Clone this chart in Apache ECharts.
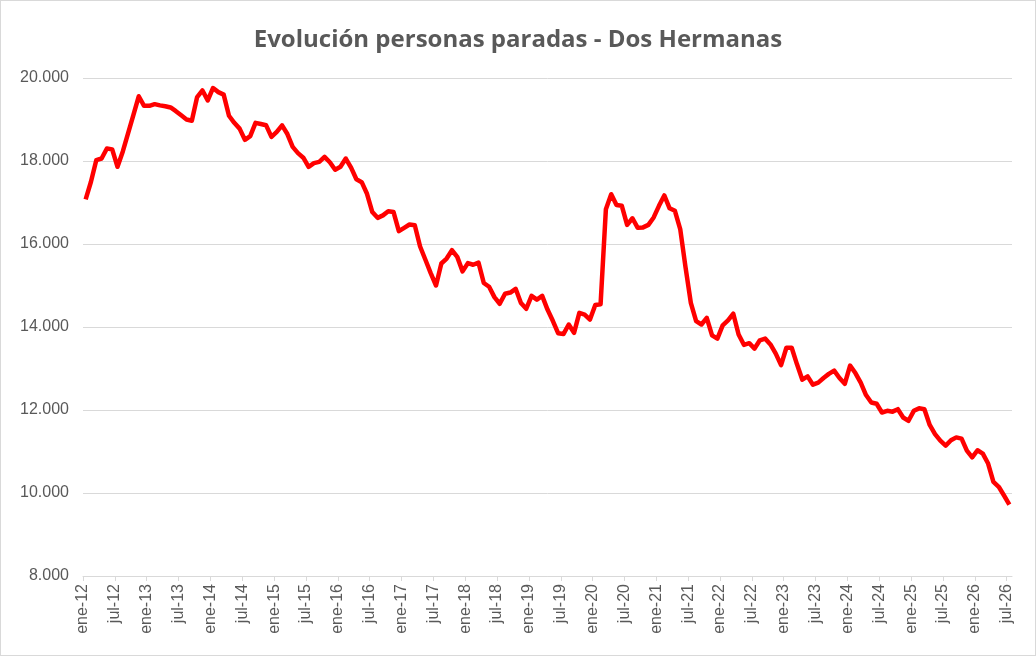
<!DOCTYPE html>
<html>
<head>
<meta charset="utf-8">
<script src="https://cdn.jsdelivr.net/npm/echarts@6/dist/echarts.min.js"></script>
<style>
  html, body { margin: 0; padding: 0; background: #fff; }
  #chart { width: 1036px; height: 656px; box-sizing: border-box; border: 1px solid #d9d9d9; }
</style>
</head>
<body>
<div id="chart"></div>
<script>
// meses de ene-12 a jul-26
var mesesNombre = ['ene', 'feb', 'mar', 'abr', 'may', 'jun', 'jul', 'ago', 'sep', 'oct', 'nov', 'dic'];
var meses = [];
for (var a = 12; a <= 26; a++) {
    for (var m = 0; m < 12; m++) {
        if (a === 26 && m > 6) break;
        meses.push(mesesNombre[m] + '-' + a);
    }
}

// personas paradas, una por mes
var parados = [
    17077, 17500, 18020, 18060, 18300, 18280, 17860, 18230, 18670, 19110, 19560, 19330,
    19330, 19370, 19340, 19320, 19290, 19200, 19100, 19000, 18970, 19540, 19700, 19460,
    19760, 19660, 19600, 19090, 18920, 18780, 18510, 18600, 18920, 18890, 18860, 18580,
    18700, 18860, 18650, 18340, 18190, 18080, 17860, 17950, 17980, 18100, 17970, 17790,
    17860, 18060, 17840, 17560, 17490, 17210, 16770, 16630, 16690, 16790, 16770, 16310,
    16390, 16470, 16450, 15940, 15620, 15300, 15000, 15530, 15650, 15850, 15690, 15340,
    15540, 15500, 15550, 15060, 14970, 14720, 14560, 14800, 14830, 14920, 14580, 14440,
    14750, 14660, 14750, 14420, 14150, 13850, 13830, 14060, 13860, 14340, 14300, 14180,
    14530, 14550, 16840, 17200, 16940, 16920, 16460, 16620, 16390, 16400, 16460, 16640,
    16920, 17170, 16860, 16800, 16360, 15440, 14580, 14140, 14060, 14220, 13800, 13720,
    14040, 14160, 14320, 13820, 13570, 13610, 13480, 13680, 13720, 13580, 13360, 13080,
    13500, 13500, 13100, 12730, 12810, 12610, 12660, 12770, 12870, 12950, 12770, 12630,
    13070, 12890, 12660, 12360, 12180, 12150, 11940, 11980, 11960, 12020, 11820, 11740,
    11980, 12040, 12020, 11640, 11420, 11260, 11140, 11270, 11340, 11310, 11020, 10860,
    11030, 10950, 10710, 10270, 10150, 9940, 9720
];

// etiquetas del eje x cada 6 meses (ene / jul)
var marcasX = [];
for (var k = 0; k < meses.length; k += 6) marcasX.push(k);

// cada punto va en el centro de su mes
var datos = parados.map(function (v, i) { return [i + 0.5, v]; });

var grafico = echarts.init(document.getElementById('chart'));
grafico.setOption({
    animation: false,
    backgroundColor: '#ffffff',
    title: {
        text: 'Evolución personas paradas - Dos Hermanas',
        left: 'center',
        top: 22,
        textStyle: {
            fontFamily: 'Open Sans',
            fontSize: 24,
            fontWeight: 'bold',
            color: '#595959'
        }
    },
    grid: { left: 82, right: 23, top: 77, bottom: 79 },
    xAxis: {
        type: 'value',
        min: 0,
        max: meses.length,
        interval: 6,
        splitLine: { show: false },
        axisLine: { show: true, lineStyle: { color: '#d9d9d9', width: 1 } },
        axisTick: { show: true, length: 5, lineStyle: { color: '#d9d9d9' }, customValues: marcasX },
        axisLabel: {
            customValues: marcasX,
            rotate: 90,
            margin: 8,
            fontFamily: 'Liberation Sans',
            fontSize: 16,
            color: '#595959',
            formatter: function (v) { return meses[Math.round(v)] || ''; }
        }
    },
    yAxis: {
        type: 'value',
        min: 8000,
        max: 20000,
        interval: 2000,
        axisLine: { show: false },
        axisTick: { show: false },
        splitLine: { lineStyle: { color: '#d9d9d9', width: 1 } },
        axisLabel: {
            margin: 14,
            fontFamily: 'Liberation Sans',
            fontSize: 16,
            color: '#595959',
            formatter: function (v) { return v.toLocaleString('de-DE', { minimumFractionDigits: 0 }).replace(/^(\d{2})(\d{3})$/, '$1.$2'); }
        }
    },
    series: [{
        type: 'line',
        data: datos,
        showSymbol: false,
        lineStyle: { color: '#ff0000', width: 4.5, join: 'round' },
        itemStyle: { color: '#ff0000' }
    }]
});
</script>
</body>
</html>
